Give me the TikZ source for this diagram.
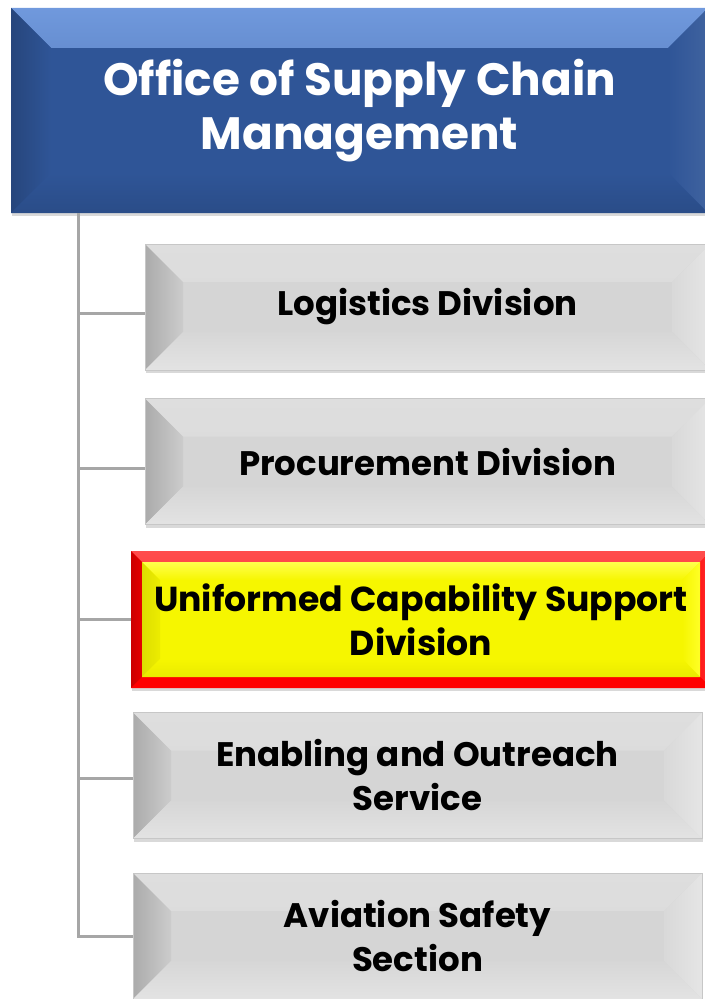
\documentclass[tikz,border=0pt]{standalone}
\usepackage{fontspec}
\setmainfont{Poppins}
\usepackage{tikz}
\usetikzlibrary{positioning,calc,shadows}

\definecolor{chainblue}{HTML}{2F5597}
\definecolor{chaintop}{HTML}{7099DD}
\definecolor{boxgray}{HTML}{D5D5D5}
\definecolor{linegray}{HTML}{A6A6A6}
\definecolor{hiyellow}{HTML}{F6F600}

% four shaded edges inside a node: inset, width, top, left, right, bottom
\newcommand\bevel[6]{%
  \path[#3] ($(path picture bounding box.north west)+(#1,-#1)$) -- ($(path picture bounding box.north east)+(-#1,-#1)$)
    -- ($(path picture bounding box.north east)+(-#1-#2,-#1-#2)$) -- ($(path picture bounding box.north west)+(#1+#2,-#1-#2)$) -- cycle;
  \path[#4] ($(path picture bounding box.north west)+(#1,-#1)$) -- ($(path picture bounding box.north west)+(#1+#2,-#1-#2)$)
    -- ($(path picture bounding box.south west)+(#1+#2,#1+#2)$) -- ($(path picture bounding box.south west)+(#1,#1)$) -- cycle;
  \path[#5] ($(path picture bounding box.north east)+(-#1,-#1)$) -- ($(path picture bounding box.south east)+(-#1,#1)$)
    -- ($(path picture bounding box.south east)+(-#1-#2,#1+#2)$) -- ($(path picture bounding box.north east)+(-#1-#2,-#1-#2)$) -- cycle;
  \path[#6] ($(path picture bounding box.south west)+(#1,#1)$) -- ($(path picture bounding box.south west)+(#1+#2,#1+#2)$)
    -- ($(path picture bounding box.south east)+(-#1-#2,#1+#2)$) -- ($(path picture bounding box.south east)+(-#1,#1)$) -- cycle;
}

\begin{document}
\begin{tikzpicture}[x=0.75pt, y=-0.75pt,
    every node/.style={inner sep=0pt, align=center},
    box/.style={rectangle, minimum width=423.75pt, minimum height=94.5pt,
      drop shadow={opacity=0.3, shadow xshift=0.8pt, shadow yshift=-2.5pt}},
    graybox/.style={box, fill=boxgray, draw=black!22, line width=0.5pt,
      font=\fontsize{25.5}{33}\selectfont\bfseries,
      path picture={\bevel{0pt}{28.5pt}
        {top color=black!13, middle color=black!3, bottom color=black!15}
        {left color=black!33, right color=black!20}
        {left color=black!15, right color=black!10}
        {top color=black!16, bottom color=black!11}}},
    bluebox/.style={box, fill=chainblue, text=white,
      font=\fontsize{34}{41}\selectfont\bfseries,
      path picture={\bevel{0pt}{30pt}
        {top color=chaintop, bottom color=chainblue!92!white}
        {left color=chainblue!82!black, right color=chainblue}
        {left color=chainblue, right color=chainblue!92!white}
        {top color=chainblue, bottom color=chainblue!90!black}}},
    redbox/.style={box, fill=red,
      font=\fontsize{26}{33}\selectfont\bfseries,
      path picture={\bevel{0pt}{8.25pt}
          {top color=red!70!white, bottom color=red!90!white}
          {left color=red!80!black, right color=red!90!black}
          {left color=red!90!white, right color=red!80!white}
          {fill=red}
        \fill[hiyellow] ($(path picture bounding box.north west)+(8.25pt,-8.25pt)$)
          rectangle ($(path picture bounding box.south east)+(-8.25pt,8.25pt)$);
        \bevel{8.25pt}{13.5pt}
          {top color=yellow!70!white, bottom color=hiyellow}
          {left color=hiyellow!90!black, right color=hiyellow!96!black}
          {left color=hiyellow, right color=yellow!85!white}
          {top color=hiyellow, bottom color=hiyellow!95!black}}},
    branch/.style={draw=linegray, line width=2.25pt}]

  \useasboundingbox (0,0) rectangle (705,999);
  \clip (0,0) rectangle (705,999);

  \node[bluebox] (OSCM) [minimum width=522.75pt, minimum height=153.75pt] at (359.5,110.5)
    {Office of Supply Chain\\Management};

  \node[graybox] (LD) at (427.5,307) {Logistics Division};

  \node[graybox] (PD) [below of=LD, node distance=115.9pt] {Procurement Division};

  \node[redbox] (UCSD) [minimum width=435pt, minimum height=102.75pt] at (421,619.5)
    {Uniformed Capability Support\\Division};

  \node[graybox] (EOS) [minimum width=426.75pt] at (417.5,775.5) {Enabling and Outreach\\Service};

  \node[graybox] (ASS) [minimum width=426.75pt, below of=EOS, node distance=120.4pt]
    {Aviation Safety\\Section};

  \coordinate (trunk) at ($(OSCM.south west)+(51pt,0)$);

  \draw[branch] (trunk) |- ([yshift=-5pt]LD.west);
  \draw[branch] (trunk) |- ([yshift=-5pt]PD.west);
  \draw[branch] (trunk) |- (UCSD.west);
  \draw[branch] (trunk) |- ([yshift=-2pt]EOS.west);
  \draw[branch] (trunk) |- (ASS.west);

\end{tikzpicture}
\end{document}
